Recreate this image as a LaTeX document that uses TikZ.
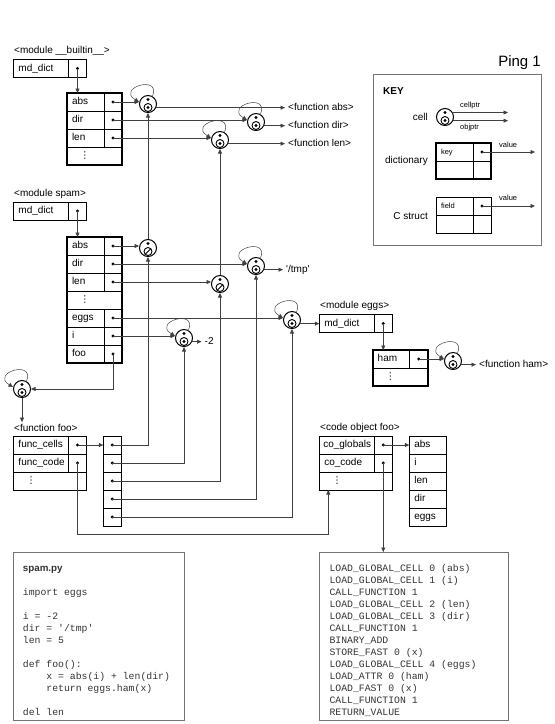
\documentclass[tikz,border=0pt]{standalone}
\usepackage{fontspec}
\setmainfont{Liberation Sans}
\setmonofont{Liberation Mono}
\newfontfamily\dotsfont{DejaVu Sans}
\usetikzlibrary{arrows.meta,positioning}

\newcommand{\vdt}{\hspace*{8pt}{\dotsfont\fontsize{9.5}{9.5}\selectfont ⋮}}

\begin{document}
\begin{tikzpicture}[
    x=1pt,y=-1pt,
    >={Triangle[length=4.5pt,width=4pt]},
    lbl/.style={anchor=west,inner sep=0pt},
    smalltxt/.style={font=\fontsize{7.5}{9}\selectfont},
    fn/.style={anchor=west,inner xsep=3pt,inner ysep=0pt,text height=7pt,text depth=2pt},
    kbox/.style={draw,line width=.6pt,outer sep=0pt,minimum height=18pt,inner xsep=5pt,inner ysep=0pt,
        text height=7pt,text depth=2pt,align=left,anchor=north west},
    dkey/.style={kbox,text width=27pt},
    skey/.style={kbox,text width=45pt},
    more/.style={kbox,text width=45pt},
    smore/.style={kbox,text width=63pt},
    val/.style={kbox,minimum width=18pt,inner xsep=0pt,
        path picture={\fill[black] (path picture bounding box.center) circle (1.6pt);}},
    nval/.style={kbox,minimum width=18pt,inner xsep=0pt},
    dictframe/.style={line width=2pt},
    cellbase/.style={circle,draw,line width=1pt,minimum size=17pt,inner sep=0pt,fill=white},
    cell/.style={cellbase,
        path picture={
            \fill[black] ([yshift=4.5pt]path picture bounding box.center) circle (1.6pt);
            \draw[black,line width=.9pt] ([yshift=-3.5pt]path picture bounding box.center) circle (4pt);
            \fill[black] ([yshift=-3.5pt]path picture bounding box.center) circle (1.6pt);}},
    nilcell/.style={cellbase,
        path picture={
            \fill[black] ([yshift=4.5pt]path picture bounding box.center) circle (1.6pt);
            \draw[black,line width=.9pt] ([yshift=-3.5pt]path picture bounding box.center) circle (4pt);
            \draw[black,line width=1pt] ([xshift=-3pt,yshift=-6.5pt]path picture bounding box.center)
                -- ([xshift=3pt,yshift=-.5pt]path picture bounding box.center);}},
    ptr/.style={->,draw=black!75,line width=.6pt},
    selfref/.style={->,draw=black!75,line width=.5pt},
    panel/.style={draw=black!55,line width=.7pt,outer sep=0pt,inner sep=0pt,anchor=north west},
    code/.style={anchor=north west,inner sep=0pt,align=left,text=black!80,
        font=\ttfamily\fontsize{9.8}{12}\selectfont}
]
\useasboundingbox (0,0) rectangle (555,724);

\node[font=\fontsize{15}{18}\selectfont,anchor=base east,inner sep=0pt] (title) at (541,66) {Ping 1};

% module __builtin__
\node[lbl] (lBuiltin) at (14,51) {<module \_\_builtin\_\_>};
\node[skey] (bMd) at (13.5,59.5) {md\_dict};
\node[val,right=0pt of bMd] (bMdV) {};
\node[dkey] (bAbs) at (67,93) {abs};
\node[val,right=0pt of bAbs] (bAbsV) {};
\node[dkey] (bDir) at (bAbs.south west) {dir};
\node[val,right=0pt of bDir] (bDirV) {};
\node[dkey] (bLen) at (bDir.south west) {len};
\node[val,right=0pt of bLen] (bLenV) {};
\node[more] (bMore) at (bLen.south west) {\vdt};
\draw[dictframe] (bAbs.north west) rectangle (bMore.south east);

\node[cell] (cBAbs) at (148,104) {};
\node[cell] (cBDir) at (256,122) {};
\node[cell] (cBLen) at (220,140) {};
\node[fn] (fAbs) at (285,107.7) {<function abs>};
\node[fn] (fDir) at (285,125.7) {<function dir>};
\node[fn] (fLen) at (285,143.7) {<function len>};

% module spam
\node[lbl] (lSpam) at (14,194) {<module spam>};
\node[skey] (sMd) at (13.5,202) {md\_dict};
\node[val,right=0pt of sMd] (sMdV) {};
\node[dkey] (sAbs) at (67,237) {abs};
\node[val,right=0pt of sAbs] (sAbsV) {};
\node[dkey] (sDir) at (sAbs.south west) {dir};
\node[val,right=0pt of sDir] (sDirV) {};
\node[dkey] (sLen) at (sDir.south west) {len};
\node[val,right=0pt of sLen] (sLenV) {};
\node[more] (sMore) at (sLen.south west) {\vdt};
\node[dkey] (sEggs) at (sMore.south west) {eggs};
\node[val,right=0pt of sEggs] (sEggsV) {};
\node[dkey] (sI) at (sEggs.south west) {i};
\node[val,right=0pt of sI] (sIV) {};
\node[dkey] (sFoo) at (sI.south west) {foo};
\node[val,right=0pt of sFoo] (sFooV) {};
\draw[dictframe] (sAbs.north west) rectangle (sFooV.south east);

\node[nilcell] (cSAbs) at (148,248) {};
\node[cell] (cSDir) at (256,266) {};
\node[nilcell] (cSLen) at (220,284) {};
\node[cell] (cSEggs) at (292,320) {};
\node[cell] (cSI) at (184,338) {};
\node[cell] (cFoo) at (22,389) {};
\node[fn] (fTmp) at (283,269.7) {\textquotesingle/tmp\textquotesingle};
\node[fn] (fNeg) at (201.5,341.7) {-2};

% module eggs
\node[lbl] (lEggs) at (320,306) {<module eggs>};
\node[skey] (eMd) at (319.3,314.5) {md\_dict};
\node[val,right=0pt of eMd] (eMdV) {};
\node[dkey] (eHam) at (372.7,350) {ham};
\node[val,right=0pt of eHam] (eHamV) {};
\node[more] (eMore) at (eHam.south west) {\vdt};
\draw[dictframe] (eHam.north west) rectangle (eMore.south east);
\node[cell] (cHam) at (453,361) {};
\node[fn] (fHam) at (476,364.7) {<function ham>};

% function foo and its cells
\node[lbl] (lFoo) at (14,428) {<function foo>};
\node[skey] (fCells) at (13.5,436) {func\_cells};
\node[val,right=0pt of fCells] (fCellsV) {};
\node[skey] (fCode) at (fCells.south west) {func\_code};
\node[val,right=0pt of fCode] (fCodeV) {};
\node[smore] (fMore) at (fCode.south west) {\vdt};
\node[val] (a1) at (103.3,436) {};
\foreach \i [count=\j] in {2,...,5}
    \node[val] (a\i) at (a\j.south west) {};

% code object foo
\node[lbl] (lCode) at (320,428) {<code object foo>};
\node[skey,inner xsep=4pt,text width=47pt] (coGlob) at (319.3,436) {co\_globals};
\node[val,right=0pt of coGlob] (coGlobV) {};
\node[skey] (coCode) at (coGlob.south west) {co\_code};
\node[val,right=0pt of coCode] (coCodeV) {};
\node[smore] (coMore) at (coCode.south west) {\vdt};
\node[dkey] (t1) at (409.3,436) {abs};
\foreach \w/\i/\j in {i/2/1,len/3/2,dir/4/3,eggs/5/4}
    \node[dkey] (t\i) at (t\j.south west) {\w};

% source and bytecode
\node[panel,minimum width=171pt,minimum height=168pt] (spamBox) at (13.3,552) {};
\node[code] (spamTxt) at ([xshift=9.4pt,yshift=-10.6pt]spamBox.north west) {\strut{\normalfont\bfseries spam.py}\\[12pt]
import eggs\\[12pt]
i = -2\\
dir = '/tmp'\\
len = 5\\[12pt]
def foo():\\
\hphantom{xxxx}x = abs(i) + len(dir)\\
\hphantom{xxxx}return eggs.ham(x)\\[12pt]
del len};
\node[panel,minimum width=189pt,minimum height=168pt] (bc) at (319.3,552) {};
\node[code] (bcTxt) at ([xshift=10pt,yshift=-10.6pt]bc.north west) {\strut LOAD\_GLOBAL\_CELL 0 (abs)\\
LOAD\_GLOBAL\_CELL 1 (i)\\
CALL\_FUNCTION 1\\
LOAD\_GLOBAL\_CELL 2 (len)\\
LOAD\_GLOBAL\_CELL 3 (dir)\\
CALL\_FUNCTION 1\\
BINARY\_ADD\\
STORE\_FAST 0 (x)\\
LOAD\_GLOBAL\_CELL 4 (eggs)\\
LOAD\_ATTR 0 (ham)\\
LOAD\_FAST 0 (x)\\
CALL\_FUNCTION 1\\
RETURN\_VALUE};

% key
\node[panel,minimum width=168.4pt,minimum height=170.7pt] (keyBox) at (373.3,74.3) {};
\node[lbl,font=\bfseries] (keyTitle) at (383,91.5) {KEY};
\node[cell] (kCell) at (445,117) {};
\node[lbl,anchor=east] (kCellL) at (428,117) {cell};
\coordinate (kPtrEnd) at (508,0);
\node[lbl,smalltxt] (kCp) at (460,106) {cellptr};
\node[lbl,smalltxt] (kOp) at (460,128) {objptr};
\node[lbl,anchor=east] (kDictL) at (428,161) {dictionary};
\node[dkey,smalltxt] (kDk) at (436,143) {key};
\node[val,right=0pt of kDk] (kDkV) {};
\node[dkey] (kDe) at (kDk.south west) {};
\node[nval,right=0pt of kDe] (kDeV) {};
\draw[dictframe] (kDk.north west) rectangle (kDeV.south east);
\node[lbl,smalltxt] (kDv) at (499,145) {value};
\node[lbl,anchor=east] (kStructL) at (428,216) {C struct};
\node[dkey,smalltxt] (kSf) at (436,197) {field};
\node[val,right=0pt of kSf] (kSfV) {};
\node[dkey] (kSe) at (kSf.south west) {};
\node[nval,right=0pt of kSe] (kSeV) {};
\node[lbl,smalltxt] (kSv) at (499,198) {value};
\coordinate (kValEnd) at (535,0);

% connectors
\foreach \cl in {cBAbs,cBDir,cBLen,cSDir,cSEggs,cSI,cFoo,cHam}
    \draw[selfref] (\cl.60) .. controls +(9,-22) and +(-23,-14) .. ([yshift=2pt]\cl.west);

\draw[ptr] (bMdV.center) -- (bMdV.center |- bAbs.north);
\foreach \r/\cl in {bAbsV/cBAbs,bDirV/cBDir,bLenV/cBLen}
    \draw[ptr] (\r.center) -- (\r.center -| \cl.west);
\draw[ptr] (cBAbs.336) -- (cBAbs.336 -| fAbs.west);
\draw[ptr] (cBDir.336) -- (cBDir.336 -| fDir.west);
\draw[ptr] (cBLen.336) -- (cBLen.336 -| fLen.west);

\draw[ptr] (sMdV.center) -- (sMdV.center |- sAbs.north);
\foreach \r/\cl in {sAbsV/cSAbs,sDirV/cSDir,sLenV/cSLen,sEggsV/cSEggs,sIV/cSI}
    \draw[ptr] (\r.center) -- (\r.center -| \cl.west);
\draw[ptr] (sFooV.center) |- (cFoo.east);
\draw[ptr] (cSAbs.north) -- (cBAbs.south);
\draw[ptr] (cSLen.north) -- (cBLen.south);
\draw[ptr] (cSDir.336) -- (cSDir.336 -| fTmp.west);
\draw[ptr] (cSI.336) -- (cSI.336 -| fNeg.west);
\draw[ptr] (cSEggs.336) -- (cSEggs.336 -| eMd.west);
\draw[ptr,shorten >=2pt] (cFoo.south) -- (cFoo.south |- lFoo.north);

\draw[ptr] (eMdV.center) -- (eMdV.center |- eHam.north);
\draw[ptr] (eHamV.center) -- (eHamV.center -| cHam.west);
\draw[ptr] (cHam.336) -- (cHam.336 -| fHam.west);

\draw[ptr] (fCellsV.center) -- (a1.west);
\foreach \i/\cl in {1/cSAbs,2/cSI,3/cSLen,4/cSDir,5/cSEggs}
    \draw[ptr] (a\i.center) -| (\cl.south);
\coordinate (codeRun) at (0,534);
\coordinate (codeIn) at ([xshift=9pt]coMore.south west);
\draw[ptr] (fCodeV.center) -- (fCodeV.center |- codeRun) -| (codeIn);
\draw[ptr] (coGlobV.center) -- (t1.west);
\draw[ptr] (coCodeV.center) -- (coCodeV.center |- bc.north);

\draw[ptr] (kCell.30) -- (kCell.30 -| kPtrEnd);
\draw[ptr] (kCell.336) -- (kCell.336 -| kPtrEnd);
\draw[ptr] (kDkV.center) -- (kDkV.center -| kValEnd);
\draw[ptr] (kSfV.center) -- (kSfV.center -| kValEnd);
\end{tikzpicture}
\end{document}
